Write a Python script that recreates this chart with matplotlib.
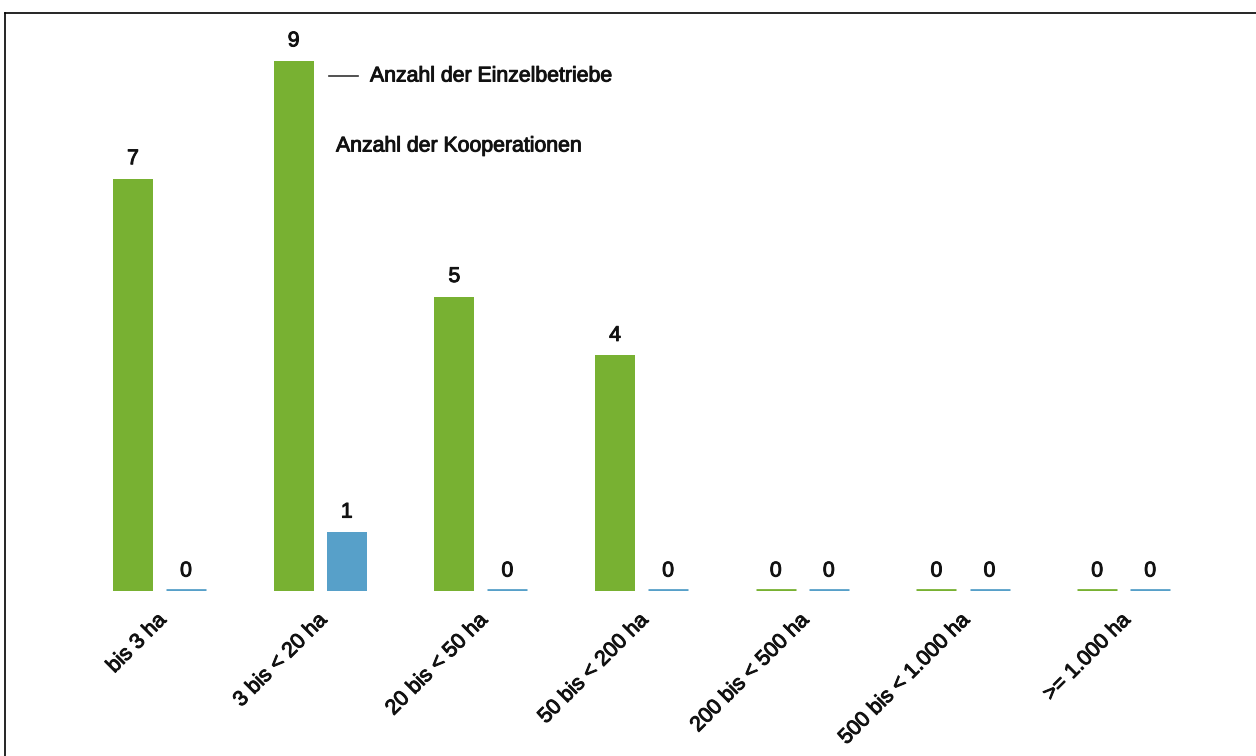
import numpy as np
import matplotlib.pyplot as plt
import matplotlib.patheffects as pe
from matplotlib.lines import Line2D

plt.rcParams['font.family'] = ['Liberation Sans', 'DejaVu Sans']

# Betriebsgrößen und Anzahlen
categories = ['bis 3 ha', '3 bis < 20 ha', '20 bis < 50 ha', '50 bis < 200 ha',
              '200 bis < 500 ha', '500 bis < 1.000 ha', '>= 1.000 ha']
einzelbetriebe = [7, 9, 5, 4, 0, 0, 0]
kooperationen = [0, 1, 0, 0, 0, 0, 0]

green = '#78b132'
blue = '#57a0c9'
txt = '#111111'
fs = 15.3
heavy = [pe.withStroke(linewidth=0.7, foreground=txt)]

W, H = 1256, 756
fig = plt.figure(figsize=(W / 100, H / 100), dpi=100)

# axes: baseline at 591 px from top, 1 unit = 58.9 px, group spacing 160.7 px
base_px = 591
top_px = 20
unit = 58.9
ax = fig.add_axes([0, (H - base_px) / H, 1, (base_px - top_px) / H])
step = 160.7
center0 = 159.5
ax.set_xlim(-center0 / step, (W - center0) / step)
ax.set_ylim(0, (base_px - top_px) / unit)

x = np.arange(len(categories))
off = 0.165
bw = 0.249

b1 = ax.bar(x - off, einzelbetriebe, bw, color=green, linewidth=0)
b2 = ax.bar(x + off, kooperationen, bw, color=blue, linewidth=0)

# zero values shown as a thin line on the baseline
for bars, vals, col in [(b1, einzelbetriebe, green), (b2, kooperationen, blue)]:
    for rect, v in zip(bars, vals):
        if v == 0:
            ax.plot([rect.get_x(), rect.get_x() + rect.get_width()], [0.02, 0.02],
                    color=col, lw=2, solid_capstyle='butt')
        ax.annotate(str(v), (rect.get_x() + rect.get_width() / 2, v),
                    xytext=(0, 20), textcoords='offset pixels',
                    ha='center', va='center', fontsize=fs, color=txt,
                    path_effects=heavy)

for spine in ax.spines.values():
    spine.set_visible(False)
ax.set_yticks([])
ax.set_xticks(x - 0.02)
ax.set_xticklabels(categories, rotation=45, ha='right', va='top',
                   rotation_mode='anchor', fontsize=fs, color=txt)
for lbl in ax.get_xticklabels():
    lbl.set_path_effects(heavy)
ax.tick_params(axis='x', length=0, pad=14)

# legend
fig.add_artist(Line2D([329 / W, 358 / W], [1 - 76 / H, 1 - 76 / H],
                      color='#333333', lw=1.2))
fig.text(370 / W, 1 - 76 / H, 'Anzahl der Einzelbetriebe', fontsize=fs,
         va='center', ha='left', color=txt, path_effects=heavy)
fig.text(336 / W, 1 - 146 / H, 'Anzahl der Kooperationen', fontsize=fs,
         va='center', ha='left', color=txt, path_effects=heavy)

# frame
fig.add_artist(Line2D([5 / W, 5 / W], [0, 1 - 13 / H], color='black', lw=1.2))
fig.add_artist(Line2D([5 / W, 1], [1 - 13 / H, 1 - 13 / H], color='black', lw=1.2))

fig.savefig('out.png', dpi=100)
